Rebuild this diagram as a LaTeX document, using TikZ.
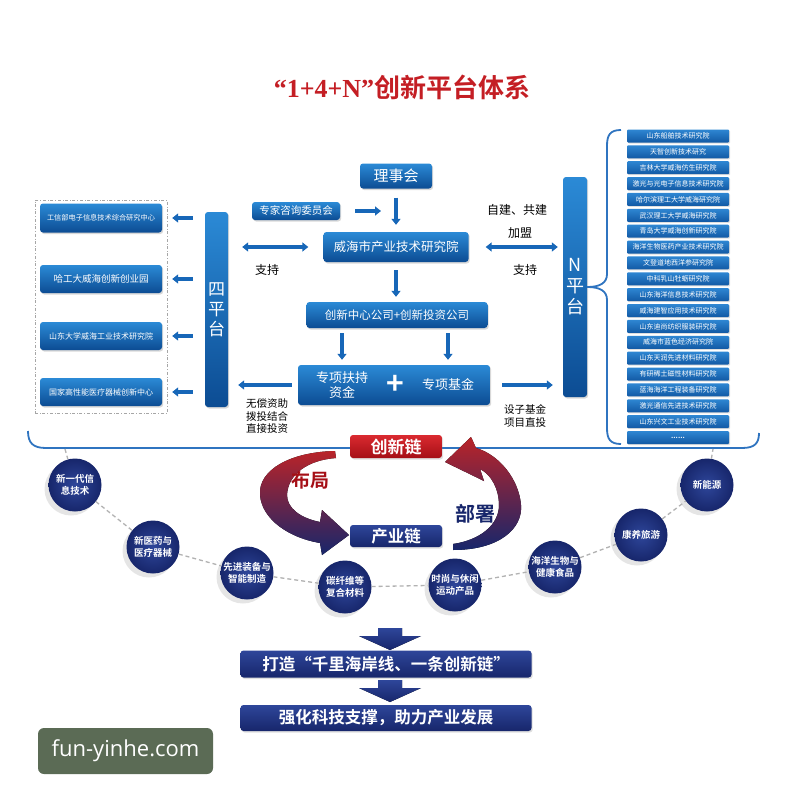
\documentclass[tikz,border=0pt]{standalone}
\usepackage{fontspec}
\setmainfont{Noto Sans CJK SC}[BoldFont={Noto Sans CJK SC Bold}]
\newfontfamily\titleserif{Liberation Serif}
\newfontfamily\marksans{Open Sans}
\usetikzlibrary{arrows.meta,shadows}

\definecolor{boxtop}{HTML}{2B8AD6}
\definecolor{boxbot}{HTML}{0C4C93}
\definecolor{listtop}{HTML}{2E86D2}
\definecolor{listbot}{HTML}{1259A4}
\definecolor{navy}{HTML}{17266B}
\definecolor{navylight}{HTML}{2E469A}
\definecolor{chaintop}{HTML}{DA2A30}
\definecolor{chainbot}{HTML}{A50F16}
\definecolor{titlered}{HTML}{C41E24}
\definecolor{arrowblue}{HTML}{1767B8}
\definecolor{bracketblue}{HTML}{2F74C0}
\definecolor{markgreen}{HTML}{5B6B55}
\newcommand{\listdots}{\textbf{......}}

\begin{document}
\begin{tikzpicture}[x=1pt,y=-1pt,
  bluebox/.style={rounded corners=3pt, top color=boxtop, bottom color=boxbot, text=white, inner sep=0pt,
    drop shadow={opacity=0.3,shadow xshift=1.2pt,shadow yshift=-1.5pt}},
  listbox/.style={rounded corners=1pt, top color=listtop, bottom color=listbot, text=white, inner sep=0pt,
    minimum width=102pt, minimum height=13pt, font=\fontsize{7}{8}\selectfont,
    drop shadow={opacity=0.25,shadow xshift=1pt,shadow yshift=-1pt}},
  navybox/.style={rounded corners=3pt, top color=navylight, bottom color=navy, text=white, inner sep=0pt,
    font=\bfseries\fontsize{16.5}{19}\selectfont, drop shadow={opacity=0.25,shadow xshift=1.2pt,shadow yshift=-1.5pt}},
  indcircle/.style={circle, minimum size=53pt, inner sep=0pt, inner color=navylight, outer color=navy,
    text=white, align=center, font=\bfseries\fontsize{9.5}{11.5}\selectfont,
    drop shadow={opacity=0.2,shadow xshift=-4pt,shadow yshift=-4pt}},
  arr/.style={draw=arrowblue, line width=3.2pt, -{Triangle[width=9pt,length=6pt]}},
  darr/.style={arr, {Triangle[width=9pt,length=6pt]}-{Triangle[width=9pt,length=6pt]}},
  lbl/.style={text=black, font=\fontsize{12}{14}\selectfont},
  smalllbl/.style={text=black, align=center, font=\fontsize{10.5}{12.5}\selectfont},
  bracket/.style={draw=bracketblue, line width=1.8pt},
  dashline/.style={draw=gray!60, line width=1.3pt, dash pattern=on 4pt off 3pt}]

\useasboundingbox[fill=white] (0,0) rectangle (800,800);

\node[text=titlered, font=\bfseries\fontsize{26}{30}\selectfont] (title) at (402,87) {{\titleserif “1+4+N”}创新平台体系};

% four platforms
\node[draw=gray!70, dash dot, line width=0.8pt, minimum width=132pt, minimum height=213pt] (lframe) at (101,306.5) {};
\node[bluebox, minimum width=122pt, minimum height=29pt, font=\fontsize{7.2}{9}\selectfont] (gxb) at (101,218) {工信部电子信息技术综合研究中心};
\node[bluebox, minimum width=122pt, minimum height=28pt, font=\fontsize{9.5}{11}\selectfont] (hgd) at (101,279) {哈工大威海创新创业园};
\node[bluebox, minimum width=122pt, minimum height=28pt, font=\fontsize{8}{10}\selectfont] (sdd) at (101,336) {山东大学威海工业技术研究院};
\node[bluebox, minimum width=122pt, minimum height=28pt, font=\fontsize{8}{10}\selectfont] (gjgx) at (101,392) {国家高性能医疗器械创新中心};
\node[bluebox, minimum width=23pt, minimum height=195pt, align=center, font=\fontsize{17}{20}\selectfont] (sipt) at (216.5,309.5) {四\\平\\台};
\foreach \b in {gxb,hgd,sdd,gjgx}
  \draw[arr, shorten <=12pt, shorten >=10pt] (sipt.west |- \b.east) -- (\b.east);

% centre
\node[bluebox, minimum width=72pt, minimum height=25pt, font=\fontsize{15}{17}\selectfont] (lsh) at (396,176) {理事会};
\node[bluebox, minimum width=88pt, minimum height=18pt, font=\fontsize{10.5}{12}\selectfont] (zjwy) at (296,211) {专家咨询委员会};
\node[bluebox, minimum width=145pt, minimum height=30pt, font=\fontsize{12.5}{14}\selectfont] (yjy) at (396,247) {威海市产业技术研究院};
\node[bluebox, minimum width=181pt, minimum height=26pt, font=\fontsize{11.5}{13}\selectfont] (cxzx) at (397,315) {创新中心公司+创新投资公司};
\node[bluebox, minimum width=192pt, minimum height=40pt] (zxzj) at (394,385) {};
\node[text=white, align=center, font=\fontsize{13}{15}\selectfont] (zxfc) at (342,385) {专项扶持\\资金};
\node[text=white, font=\bfseries\fontsize{30}{30}\selectfont] (plus) at (395,385) {+};
\node[text=white, font=\fontsize{13}{15}\selectfont] (zxjj) at (448,385) {专项基金};
\node[bluebox, minimum width=24pt, minimum height=220pt, align=center, font=\fontsize{18}{21}\selectfont] (npt) at (575,287) {N\\平\\台};

\coordinate (zjend) at (381,211);
\draw[arr, shorten <=15pt] (zjwy.east) -- (zjend);
\draw[arr, shorten <=9pt, shorten >=7pt] (lsh) -- (yjy);
\draw[darr, shorten <=14pt, shorten >=15pt] (sipt.east |- yjy.west) -- (yjy.west);
\draw[darr, shorten <=17pt, shorten >=5pt] (yjy.east) -- (npt.west |- yjy.east);
\draw[arr, shorten <=8pt, shorten >=5pt] (yjy) -- (yjy |- cxzx.north);
\draw[arr, shorten <=5pt, shorten >=5pt] (cxzx.south -| zxfc) -- (zxzj.north -| zxfc);
\draw[arr, shorten <=5pt, shorten >=5pt] (cxzx.south -| zxjj) -- (zxzj.north -| zxjj);
\draw[arr, shorten <=6pt, shorten >=10pt] (zxzj.west) -- (sipt.east |- zxzj.west);
\draw[arr, shorten <=12pt, shorten >=10pt] (zxzj.east) -- (npt.west |- zxzj.east);

\node[lbl] (zc1) at (267,270) {支持};
\node[lbl] (zjgj) at (517,210) {自建、共建};
\node[lbl] (jm) at (520,233) {加盟};
\node[lbl] (zc2) at (525,270) {支持};
\node[smalllbl] (wczz) at (267,416) {无偿资助\\拨投结合\\直接投资};
\node[smalllbl] (zjzt) at (525,416) {设子基金\\项目直投};

% N platforms
\foreach \name [count=\i] in {山东船舶技术研究院,天智创新技术研究,吉林大学威海仿生研究院,激光与光电子信息技术研究院,
  哈尔滨理工大学威海研究院,武汉理工大学威海研究院,青岛大学威海创新研究院,海洋生物医药产业技术研究院,
  文登道地西洋参研究院,中科乳山牡蛎研究院,山东海洋信息技术研究院,威海建智应用技术研究院,
  山东迪尚纺织服装研究院,威海市蓝色经济研究院,山东天润先进材料研究院,有研稀土磁性材料研究院,
  蓝海海洋工程装备研究院,激光通信先进技术研究院,山东兴文工业技术研究院,\listdots}
  \node[listbox] (nyjy\i) at (678,120.13+15.87*\i) {\name};
\draw[bracket] (621,130) .. controls (610,130) and (607,135) .. (607,146) -- (607,274)
  .. controls (607,283) and (600,287) .. (npt.east) .. controls (600,287) and (607,291) .. (607,300)
  -- (607,428) .. controls (607,439) and (610,444) .. (621,444);
\draw[bracket] (28,431) .. controls (28,443) and (33,448) .. (46,448) -- (742,448)
  .. controls (755,448) and (759,443) .. (759,433);

% chains
\fill[top color=chaintop!85!black, bottom color=navy] (335,451) .. controls (290,452) and (258,470) .. (260,495)
  .. controls (262,520) and (290,538) .. (320,543) -- (322,555) -- (349,535) -- (322,510) -- (320,522)
  .. controls (300,518) and (287,508) .. (287,495) .. controls (288,474) and (308,460) .. (336,458) -- cycle;
\fill[top color=chaintop!85!black, bottom color=navy] (453,550) .. controls (500,550) and (523,528) .. (521,505)
  .. controls (519,480) and (500,455) .. (476,448) -- (471,437) -- (445,462) -- (484,481) -- (480,469)
  .. controls (492,475) and (499,490) .. (499,505) .. controls (499,525) and (480,540) .. (453,544) -- cycle;
\node[rounded corners=3pt, top color=chaintop, bottom color=chainbot, text=white, inner sep=0pt,
  minimum width=92pt, minimum height=23pt, font=\bfseries\fontsize{17}{19}\selectfont,
  drop shadow={opacity=0.25,shadow xshift=1.2pt,shadow yshift=-1.5pt}] (cxl) at (396,446.5) {创新链};
\node[navybox, minimum width=92pt, minimum height=22pt] (cyl) at (396,536) {产业链};
\node[text=chainbot, font=\bfseries\fontsize{19}{21}\selectfont] (bj) at (310,480) {布局};
\node[text=navy, font=\bfseries\fontsize{20}{22}\selectfont] (bs) at (475,514) {部署};

% industries
\foreach \x/\y/\t [count=\i] in {75/485/{新一代信\\息技术},153/547/{新医药与\\医疗器械},247/573/{先进装备与\\智能制造},
  345/587/{碳纤维等\\复合材料},455/585/{时尚与休闲\\运动产品},555/567/{海洋生物与\\健康食品},641/535/{康养旅游},707/485/{新能源}}
  \node[indcircle] (ind\i) at (\x,\y) {\t};
\coordinate (lt) at (65,449);
\coordinate (rt) at (713,449);
\draw[dashline] (lt) -- (ind1) -- (ind2) -- (ind3) -- (ind4) -- (ind5) -- (ind6) -- (ind7) -- (ind8) -- (rt);

% goals
\foreach \dy in {0,52}
  \fill[top color=navylight, bottom color=navy] (378,628+\dy) -- (402,628+\dy) -- (402,636+\dy) -- (421,636+\dy)
    -- (390,650+\dy) -- (359,636+\dy) -- (378,636+\dy) -- cycle;
\node[navybox, minimum width=291pt, minimum height=27pt] (bn1) at (386,664) {打造“千里海岸线、一条创新链”};
\node[navybox, minimum width=291pt, minimum height=26pt] (bn2) at (386,718) {强化科技支撑，助力产业发展};

\node[fill=markgreen, rounded corners=6pt, minimum width=175pt, minimum height=46pt, text=white,
  font=\marksans\fontsize{22}{26}\selectfont] (mark) at (125.5,751) {fun-yinhe.com};
\end{tikzpicture}
\end{document}
